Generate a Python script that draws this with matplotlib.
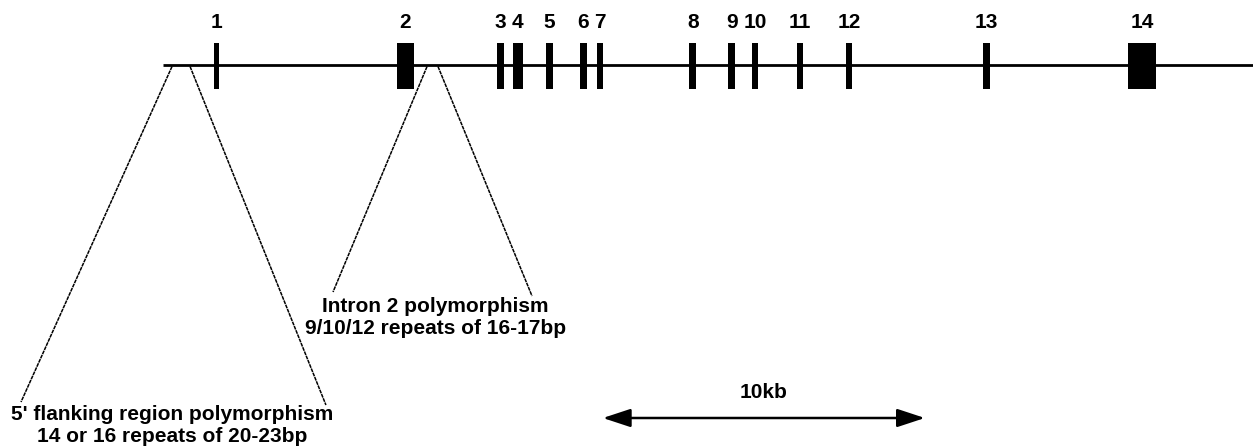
import matplotlib
matplotlib.use("Agg")
import matplotlib.pyplot as plt

# ---- data (kb from start of drawn gene line) ----
exon_labels = ["1", "2", "3", "4", "5", "6", "7", "8", "9", "10", "11", "12", "13", "14"]
exon_centers = [1.66, 7.53, 10.48, 11.02, 12.00, 13.06, 13.57, 16.45, 17.66, 18.38, 19.78, 21.30, 25.57, 30.40]
exon_widths = [0.18, 0.53, 0.22, 0.30, 0.22, 0.22, 0.18, 0.22, 0.22, 0.20, 0.20, 0.18, 0.22, 0.87]
gene_start, gene_end = 0.0, 33.85

scale_bar_start, scale_bar_len = 13.66, 10.0
scale_bar_label = "10kb"

# polymorphism annotation wedges: (top-left, top-right, bottom-left, bottom-right)
flank_wedge = [0.28, 0.84, -4.41, 5.06]
intron_wedge = [8.20, 8.54, 5.28, 11.46]
flank_text = "5' flanking region polymorphism\n14 or 16 repeats of 20-23bp"
intron_text = "Intron 2 polymorphism\n9/10/12 repeats of 16-17bp"

# ---- layout ----
W, H = 1253, 448
px_per_kb = 32.2
x0_px = 163

fig = plt.figure(figsize=(W / 100, H / 100), dpi=100)
ax = fig.add_axes([0, 0, 1, 1])
ax.set_xlim(-x0_px / px_per_kb, (W - x0_px) / px_per_kb)
ax.set_ylim(H, 0)
ax.axis("off")

font = dict(family="Liberation Sans", weight="bold", fontsize=15, color="black")

line_y = 65.5
ax.plot([gene_start, gene_end], [line_y, line_y], color="black", lw=2.0, solid_capstyle="butt")

ex_top, ex_bot = 43, 89
ax.bar(exon_centers, ex_bot - ex_top, width=exon_widths, bottom=ex_top, color="black", edgecolor="none")
for lab, c in zip(exon_labels, exon_centers):
    ax.text(c, 22, lab, ha="center", va="center", **font)

# wedges
def wedge(w, y_top, y_bl, y_br):
    ax.plot([w[0], w[2]], [y_top, y_bl], color="black", lw=1.1, ls=(0, (2.5, 0.5)))
    ax.plot([w[1], w[3]], [y_top, y_br], color="black", lw=1.1, ls=(0, (2.5, 0.5)))

wedge(flank_wedge, line_y + 1, 402, 405)
wedge(intron_wedge, line_y + 1, 292, 296)

ax.text((flank_wedge[2] + flank_wedge[3]) / 2 - 0.05, 425, flank_text, ha="center", va="center",
        linespacing=1.2, **font)
ax.text((intron_wedge[2] + intron_wedge[3]) / 2 + 0.1, 317, intron_text, ha="center", va="center",
        linespacing=1.2, **font)

# scale bar
ax.annotate("", xy=(scale_bar_start, 418), xytext=(scale_bar_start + scale_bar_len, 418),
            arrowprops=dict(arrowstyle="<|-|>,head_length=0.85,head_width=0.28", mutation_scale=20,
                            lw=1.8, color="black", shrinkA=0, shrinkB=0))
ax.text(scale_bar_start + scale_bar_len / 2, 393, scale_bar_label, ha="center", va="center", **font)

fig.savefig("out.png", dpi=100)
